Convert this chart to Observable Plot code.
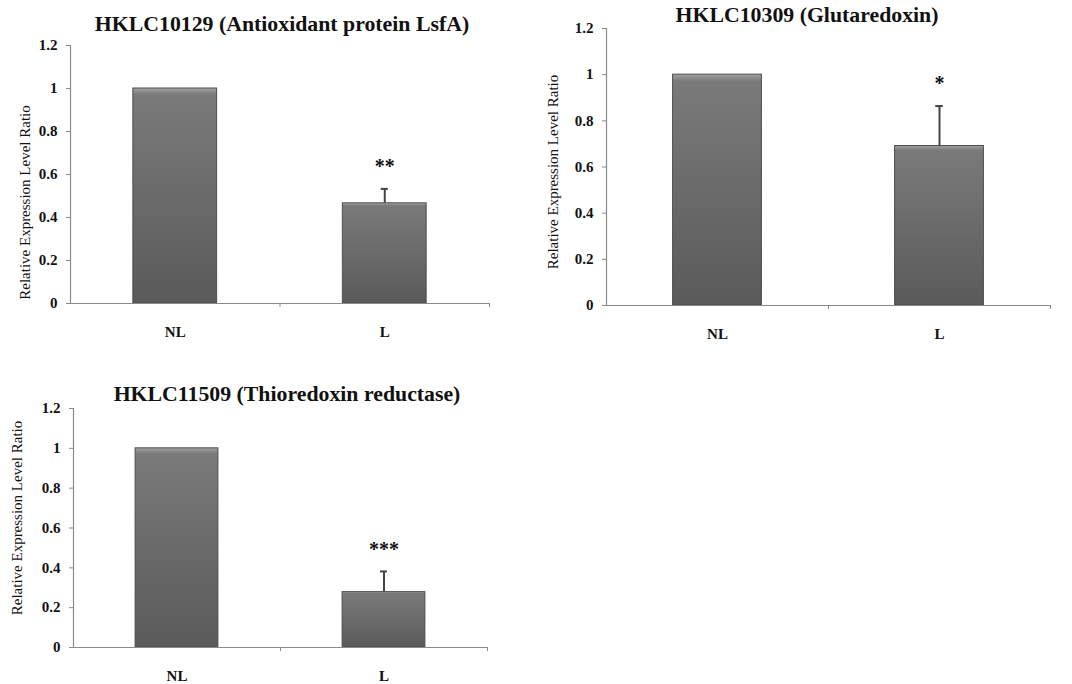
<!DOCTYPE html>
<html><head><meta charset="utf-8">
<script src="https://cdn.jsdelivr.net/npm/d3@7"></script>
<script src="https://cdn.jsdelivr.net/npm/@observablehq/plot@0.6"></script>
<style>
body{margin:0;background:#fff;}
#root{position:relative;width:1072px;height:684px;background:#fff;overflow:hidden;font-family:"Liberation Serif","Times New Roman",serif;}
.panel{position:absolute;}
.panel svg{background:transparent !important;}
.title{position:absolute;font-weight:bold;font-size:21.8px;color:#111;white-space:nowrap;transform:translate(-50%,-50%);line-height:1;}
</style></head><body><div id="root"></div>
<script>
// ---- data ----
const categories = ["NL", "L"];
const titles = [
  "HKLC10129 (Antioxidant protein LsfA)",
  "HKLC10309 (Glutaredoxin)",
  "HKLC11509 (Thioredoxin reductase)"
];
const values1 = [1.0, 0.466];
const errors1 = [0, 0.067];
const signif1 = ["", "**"];
const values2 = [1.0, 0.691];
const errors2 = [0, 0.173];
const signif2 = ["", "*"];
const values3 = [1.0, 0.278];
const errors3 = [0, 0.104];
const signif3 = ["", "***"];
const yTicks = [0, 0.2, 0.4, 0.6, 0.8, 1, 1.2];
const yLabel = "Relative Expression Level Ratio";

// ---- layout (pixel positions of axes in the page) ----
const layouts = [
  {axisX0: 70, axisX1: 489, yTop: 45, y0: 303, titleX: 282, titleY: 25, labelDx: -45, labelDy: 28},
  {axisX0: 606, axisX1: 1050, yTop: 28, y0: 305, titleX: 807, titleY: 16, labelDx: -53, labelDy: 5},
  {axisX0: 73, axisX1: 487, yTop: 408, y0: 647, titleX: 287, titleY: 395, labelDx: -56, labelDy: -10}
];
const panels = [
  {values: values1, errors: errors1, signif: signif1},
  {values: values2, errors: errors2, signif: signif2},
  {values: values3, errors: errors3, signif: signif3}
];

const root = document.getElementById("root");
const axisColor = "#8a8a8a";
const serif = "'Liberation Serif','Times New Roman',serif";

panels.forEach((p, k) => {
  const L = layouts[k];
  const mL = 70, mT = 12, mB = 40, mR = 12;
  const left = L.axisX0 - mL, top = L.yTop - mT;
  const width = L.axisX1 - left + mR, height = L.y0 - top + mB;
  const data = categories.map((c, i) => ({cat: c, i, value: p.values[i], err: p.errors[i], sig: p.signif[i]}));
  const withErr = data.filter(d => d.err > 0);
  const gid = "barGrad" + k;
  const defs = () => {
    const ns = "http://www.w3.org/2000/svg";
    const g = document.createElementNS(ns, "defs");
    g.innerHTML = `<linearGradient id="${gid}" x1="0" y1="0" x2="0" y2="1">
      <stop offset="0" stop-color="#a2a2a2"/>
      <stop offset="0.03" stop-color="#7a7a7a"/>
      <stop offset="1" stop-color="#5a5a5a"/>
    </linearGradient>`;
    return g;
  };
  const capHalf = 0.017;
  const chart = Plot.plot({
    width, height,
    marginLeft: mL, marginTop: mT, marginBottom: mB, marginRight: mR,
    style: {fontFamily: serif, fontSize: "15px", color: "#111", background: "transparent"},
    x: {domain: [0, 2]},
    y: {domain: [0, 1.2]},
    marks: [
      defs,
      Plot.rectY(data, {x1: d => d.i + 0.3, x2: d => d.i + 0.7, y: "value", fill: `url(#${gid})`, stroke: "#4e4e4e", strokeWidth: 1}),
      Plot.ruleX(withErr, {x: d => d.i + 0.5, y1: "value", y2: d => d.value + d.err, stroke: "#444", strokeWidth: 2}),
      Plot.ruleY(withErr, {y: d => d.value + d.err, x1: d => d.i + 0.5 - capHalf, x2: d => d.i + 0.5 + capHalf, stroke: "#444", strokeWidth: 2}),
      Plot.text(withErr, {x: d => d.i + 0.5, y: d => d.value + d.err, text: "sig", dy: -22, fontSize: 20, fontWeight: "bold", lineAnchor: "middle", fill: "#111"}),
      Plot.ruleX([0], {stroke: axisColor, strokeWidth: 1.2}),
      Plot.ruleY([0], {stroke: axisColor, strokeWidth: 1.2}),
      Plot.axisY({ticks: yTicks, tickSize: 4, tickPadding: 9, tickFormat: d => String(d), stroke: axisColor, fontWeight: "bold", fontSize: 15, fill: "#111", label: null}),
      Plot.axisX({ticks: [1, 2], tickSize: 4, tickFormat: () => "", stroke: axisColor, label: null}),
      Plot.text(data, {x: d => d.i + 0.5, y: 0, text: "cat", dy: 29, fontWeight: "bold", fontSize: 15, lineAnchor: "middle", fill: "#111"}),
      Plot.text([yLabel], {frameAnchor: "left", text: d => d, rotate: -90, dx: L.labelDx, dy: L.labelDy, textAnchor: "middle", lineAnchor: "middle", fontSize: 15, fill: "#111"})
    ]
  });
  const div = document.createElement("div");
  div.className = "panel";
  div.style.left = left + "px";
  div.style.top = top + "px";
  div.appendChild(chart);
  root.appendChild(div);
  const t = document.createElement("div");
  t.className = "title";
  t.textContent = titles[k];
  t.style.left = L.titleX + "px";
  t.style.top = L.titleY + "px";
  root.appendChild(t);
});
</script></body></html>
